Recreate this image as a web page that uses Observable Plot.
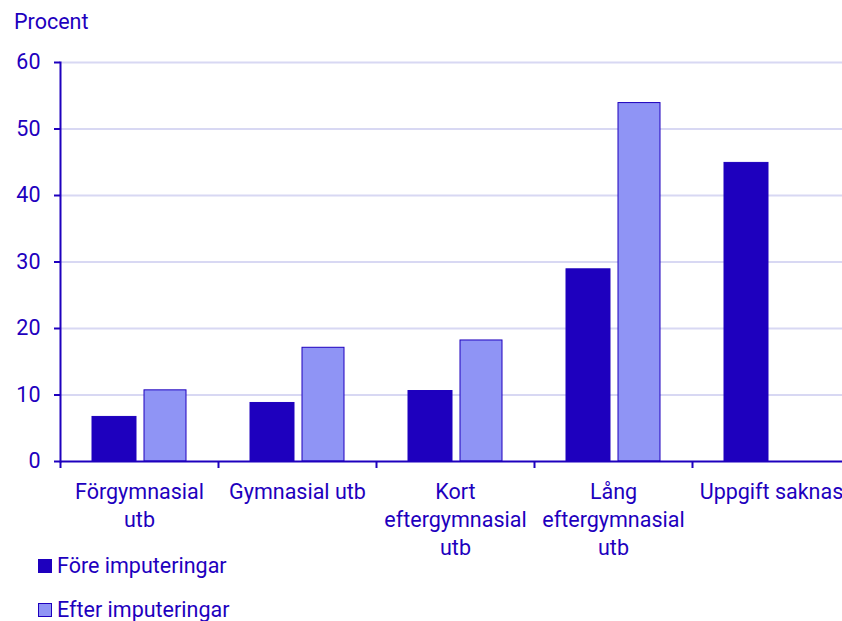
<!DOCTYPE html>
<html><head><meta charset="utf-8">
<script src="https://cdn.jsdelivr.net/npm/d3@7"></script>
<script src="https://cdn.jsdelivr.net/npm/@observablehq/plot@0.6"></script>
<style>
html,body{margin:0;padding:0;background:#fff;overflow:hidden;width:842px;height:621px}
#wrap{position:relative;width:842px;height:621px;overflow:hidden;font-family:Roboto,sans-serif;color:#1E00BE}
#title{position:absolute;left:14px;top:9px;font-size:21.5px;line-height:26px}
#chart{position:absolute;left:0;top:0;width:860px}
#chart svg{max-width:none !important;width:860px;height:565px}
.legend{position:absolute;left:38px;font-size:21.5px;line-height:26px;height:26px;display:flex;align-items:center}
.sw{width:14px;height:14px;margin-right:5px;box-sizing:border-box;border:1px solid #1E00BE}
</style></head>
<body><div id="wrap">
<div id="chart"></div>
<div id="title">Procent</div>
<div class="legend" style="top:553px"><span class="sw" style="background:#1E00BE"></span><span>Före imputeringar</span></div>
<div class="legend" style="top:597px"><span class="sw" style="background:#8F94F5"></span><span>Efter imputeringar</span></div>
</div>
<script>
const categories = ["Förgymnasial utb", "Gymnasial utb", "Kort eftergymnasial utb", "Lång eftergymnasial utb", "Uppgift saknas"];
const tickLabels = ["Förgymnasial\nutb", "Gymnasial utb", "Kort\neftergymnasial\nutb", "Lång\neftergymnasial\nutb", "Uppgift saknas"];
const foreValues = [6.7, 8.8, 10.6, 28.9, 44.9];
const efterValues = [10.7, 17.1, 18.2, 53.9, null];
const yTicks = [0, 10, 20, 30, 40, 50, 60];

const DARK = "#1E00BE", LIGHT = "#8F94F5", GRID = "#D8D8F3";
const rows = categories.map((c, i) => ({cat: c, fore: foreValues[i], efter: efterValues[i]}));

const chart = Plot.plot({
  width: 860, height: 565,
  marginTop: 62, marginLeft: 60, marginRight: 10, marginBottom: 104,
  style: {fontFamily: "Roboto, sans-serif", fontSize: "21.5px", color: DARK, background: "transparent", maxWidth: "none"},
  x: {domain: categories, padding: 0, axis: null, label: null},
  y: {domain: [0, 60], axis: null, label: null},
  marks: [
    Plot.gridY({ticks: yTicks.slice(1), stroke: GRID, strokeOpacity: 1, strokeWidth: 2}),
    Plot.barY(rows.filter(d => d.fore != null), {x: "cat", y: "fore", fill: DARK, stroke: DARK, insetLeft: 32, insetRight: 82}),
    Plot.barY(rows.filter(d => d.efter != null), {x: "cat", y: "efter", fill: LIGHT, stroke: DARK, insetLeft: 84, insetRight: 32}),
    Plot.ruleY([0], {stroke: DARK, strokeWidth: 2}),
    Plot.frame({anchor: "left", stroke: DARK, strokeWidth: 2}),
    Plot.axisY({ticks: yTicks, tickSize: 6, tickPadding: 14, strokeWidth: 2, label: null, tickFormat: d => String(d)}),
    Plot.axisX({tickSize: 7, strokeWidth: 2, label: null, tickFormat: () => "", dx: -79}),
    Plot.axisX({tickSize: 0, tickPadding: 17, lineHeight: 1.32, label: null, tickFormat: d => tickLabels[categories.indexOf(d)]})
  ]
});
document.getElementById("chart").appendChild(chart);
</script>
</body></html>
